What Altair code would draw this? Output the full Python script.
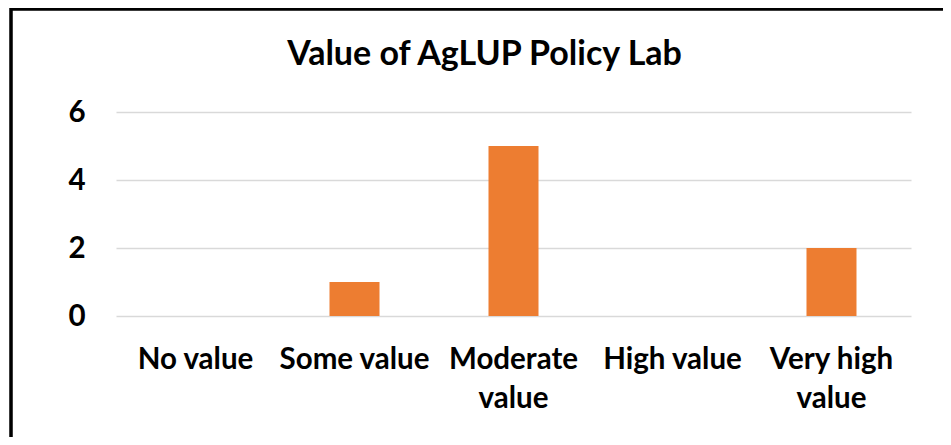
import altair as alt
import pandas as pd
import json

categories = ["No value", "Some value", "Moderate value", "High value", "Very high value"]
counts = [0, 1, 5, 0, 2]
label_lines = [["No value"], ["Some value"], ["Moderate", "value"], ["High value"], ["Very high", "value"]]
y_ticks = [0, 2, 4, 6]
title_text = "Value of AgLUP Policy Lab"

df = pd.DataFrame({"category": categories, "count": counts})

expr = "datum.value"
for cat, lines in reversed(list(zip(categories, label_lines))):
    if len(lines) > 1:
        expr = f"datum.value == {json.dumps(cat)} ? {json.dumps(lines)} : ({expr})"

FONT = "Lato"

bars = alt.Chart(df).mark_bar(color="#ED7D31").encode(
    x=alt.X("category:N", sort=categories,
            scale=alt.Scale(paddingInner=0.6855, paddingOuter=0.3428),
            axis=alt.Axis(title=None, labelAngle=0, labelExpr=expr, domain=False, ticks=False,
                          labelFont=FONT, labelFontWeight="bold", labelFontSize=29.5,
                          labelColor="#000000", labelPadding=43, labelLineHeight=39,
                          labelBaseline="middle")),
    y=alt.Y("count:Q", scale=alt.Scale(domain=[0, 6]),
            axis=alt.Axis(title=None, values=y_ticks, domain=False, ticks=False,
                          labelFont=FONT, labelFontWeight="bold", labelFontSize=29.5,
                          labelColor="#000000", labelPadding=31,
                          gridColor="#d9d9d9", gridWidth=1.5)),
)

frame = alt.Chart(df).mark_rect(fill=None, stroke="#000000", strokeWidth=2.5, clip=False).encode(
    x=alt.value(-105), x2=alt.value(860), y=alt.value(-103), y2=alt.value(360)
)

chart = alt.layer(bars, frame).properties(
    width=795, height=204,
    title=alt.TitleParams(title_text, font=FONT, fontSize=34, fontWeight="bold",
                          color="#000000", anchor="middle", dx=-29, dy=91, offset=10,
                          baseline="middle"),
    autosize=alt.AutoSizeParams(type="none"),
    padding={"left": 108, "top": 104, "right": 32, "bottom": 121},
).configure_view(stroke=None)

chart.save("out.html", embed_options={"renderer": "svg", "actions": False})
